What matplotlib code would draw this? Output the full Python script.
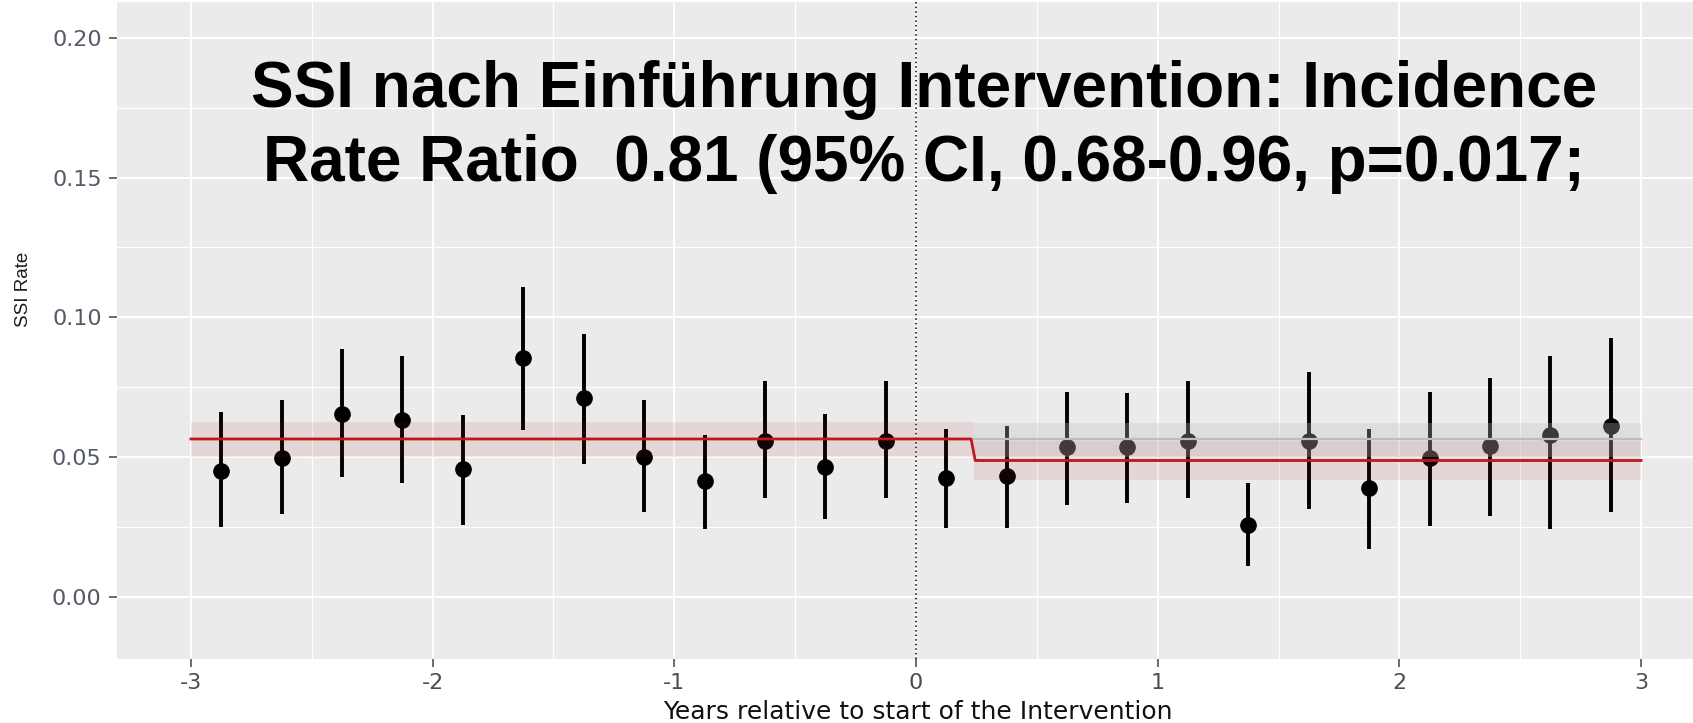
import matplotlib
matplotlib.use("Agg")
import matplotlib.pyplot as plt
from matplotlib.ticker import MultipleLocator

plt.rcParams["axes.unicode_minus"] = False

# -----------------------------
# Data
# -----------------------------
years = [-2.875, -2.625, -2.375, -2.125, -1.875, -1.625, -1.375, -1.125,
         -0.875, -0.625, -0.375, -0.125, 0.125, 0.375, 0.625, 0.875,
         1.125, 1.375, 1.625, 1.875, 2.125, 2.375, 2.625, 2.875]
rate = [0.0452, 0.0498, 0.0653, 0.0633, 0.0456, 0.0853, 0.0710, 0.0502,
        0.0413, 0.0556, 0.0463, 0.0556, 0.0425, 0.0432, 0.0537, 0.0537,
        0.0556, 0.0259, 0.0556, 0.0390, 0.0498, 0.0541, 0.0579, 0.0610]
lower = [0.0250, 0.0297, 0.0429, 0.0409, 0.0259, 0.0598, 0.0475, 0.0305,
         0.0243, 0.0355, 0.0278, 0.0355, 0.0247, 0.0247, 0.0328, 0.0336,
         0.0355, 0.0112, 0.0313, 0.0170, 0.0255, 0.0290, 0.0243, 0.0305]
upper = [0.0660, 0.0703, 0.0888, 0.0861, 0.0649, 0.1108, 0.0942, 0.0703,
         0.0579, 0.0772, 0.0653, 0.0772, 0.0602, 0.0610, 0.0734, 0.0730,
         0.0772, 0.0409, 0.0803, 0.0602, 0.0734, 0.0784, 0.0861, 0.0927]

# fitted model (red) with step after intervention
fit_x = [-3.0, 0.228, 0.245, 3.0]
fit_y = [0.0565, 0.0565, 0.0488, 0.0488]
pre_band_x = [-3.0, 0.24]
pre_lo, pre_hi = 0.0502, 0.0624
post_band_x = [0.24, 3.0]
post_lo, post_hi = 0.0419, 0.0557

# counterfactual (grey)
cf_x = [0.24, 3.0]
cf_y = [0.0564, 0.0564]
cf_lo, cf_hi = 0.0502, 0.0623

x_ticks = [-3, -2, -1, 0, 1, 2, 3]
y_ticks = [0.00, 0.05, 0.10, 0.15, 0.20]

title_lines = ["SSI nach Einführung Intervention: Incidence",
               "Rate Ratio  0.81 (95% CI, 0.68-0.96, p=0.017;"]

# -----------------------------
# Plot
# -----------------------------
fig = plt.figure(figsize=(16.93, 7.23), dpi=100)
ax = fig.add_axes([117 / 1693, 1 - 659 / 723, 1 - 117 / 1693, 657 / 723])
ax.set_facecolor("#EBEBEB")
for s in ax.spines.values():
    s.set_visible(False)

ax.set_xlim(-3.306, 3.215)
ax.set_ylim(-0.0222, 0.2128)

ax.set_xticks(x_ticks)
ax.set_yticks(y_ticks)
ax.set_yticklabels([f"{v:.2f}" for v in y_ticks])
ax.xaxis.set_minor_locator(MultipleLocator(0.5))
ax.yaxis.set_minor_locator(MultipleLocator(0.025))
ax.grid(which="major", color="white", linewidth=1.4)
ax.grid(which="minor", color="white", linewidth=0.8)
ax.set_axisbelow(True)

ax.tick_params(axis="both", which="major", length=6, width=1.1, color="#444444")
ax.tick_params(axis="both", which="minor", length=0)
ax.tick_params(axis="y", labelsize=16, labelcolor="#555a6a", pad=5)
ax.tick_params(axis="x", labelsize=16, labelcolor="#4d4d4d", pad=4)

# intervention start
ax.axvline(0, color="black", linestyle=(0, (1, 2)), linewidth=1.1, zorder=1.5)

# observed rates with CI
ax.vlines(years, lower, upper, color="black", linewidth=2.8, zorder=2)
ax.plot(years, rate, "o", color="black", markersize=11, zorder=2)

# confidence bands (drawn on top, transparent)
ax.fill_between(pre_band_x, pre_lo, pre_hi, color="#B0171F", alpha=0.1,
                linewidth=0, zorder=3)
ax.fill_between(post_band_x, post_lo, post_hi, color="#B0171F", alpha=0.1,
                linewidth=0, zorder=3)
ax.fill_between(cf_x, cf_lo, cf_hi, color="#BEBEBE", alpha=0.3,
                linewidth=0, zorder=3)

# fitted lines
ax.plot(cf_x, cf_y, color="#BDBDBD", linewidth=1.6, zorder=4)
ax.plot(fit_x, fit_y, color="#C0161C", linewidth=2.0, zorder=4)

# axis labels
fig.text(24 / 1693, 1 - 289 / 723, "SSI Rate", rotation=90, ha="center",
         va="center", fontsize=13.5, color="#1a1a1a",
         family=["Liberation Sans", "DejaVu Sans"])
fig.text(918 / 1693, 1 - 712 / 723, "Years relative to start of the Intervention",
         ha="center", va="center", fontsize=18, color="#111111")

# title annotation
fig.text(924 / 1693, 1 - 106.7 / 723, title_lines[0], ha="center",
         va="baseline", fontsize=46, fontweight="bold", color="black",
         family=["Liberation Sans", "DejaVu Sans"])
fig.text(924 / 1693, 1 - 180.7 / 723, title_lines[1], ha="center",
         va="baseline", fontsize=46, fontweight="bold", color="black",
         family=["Liberation Sans", "DejaVu Sans"])

fig.savefig("out.png", dpi=100)
